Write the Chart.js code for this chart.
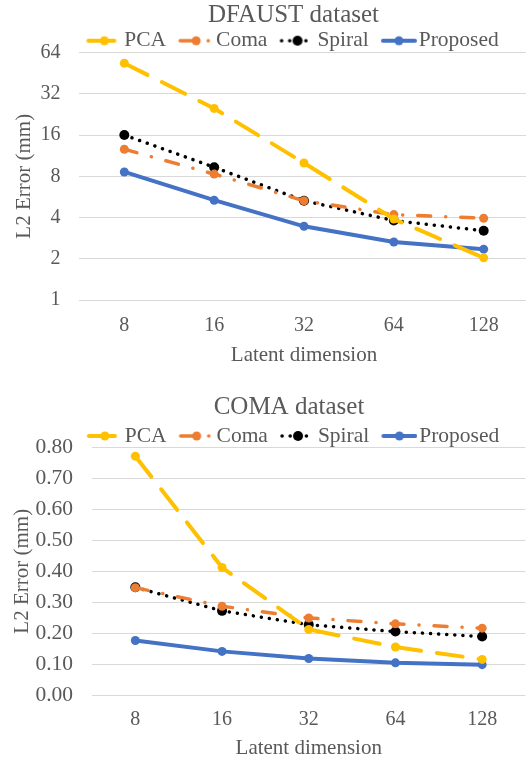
<!DOCTYPE html>
<html>
<head>
<meta charset="utf-8">
<script src="https://cdn.jsdelivr.net/npm/chart.js@4.4.1/dist/chart.umd.min.js"></script>
<style>
  html, body { margin: 0; padding: 0; background: #fff; overflow: hidden; width: 526px; height: 761px; }
  canvas { position: absolute; left: 0; }
  #dfaust { top: 0; }
  #coma { top: 392px; }
</style>
</head>
<body>
<canvas id="dfaust" width="579" height="368"></canvas>
<canvas id="coma" width="570" height="369"></canvas>
<script>
const latentDims = ['8', '16', '32', '64', '128'];
const seriesNames = ['PCA', 'Coma', 'Spiral', 'Proposed'];

// DFAUST dataset (mm, log2 axis)
const dfaustPCA = [53.5, 25, 10, 3.9, 2.03];
const dfaustComa = [12.6, 8.3, 5.3, 4.2, 3.95];
const dfaustSpiral = [16, 9.3, 5.3, 3.8, 3.2];
const dfaustProposed = [8.6, 5.35, 3.45, 2.65, 2.35];
const dfaustTicks = [1, 2, 4, 8, 16, 32, 64];

// COMA dataset (mm)
const comaPCA = [0.772, 0.412, 0.212, 0.155, 0.115];
const comaComa = [0.347, 0.287, 0.249, 0.230, 0.216];
const comaSpiral = [0.348, 0.272, 0.227, 0.205, 0.189];
const comaProposed = [0.176, 0.141, 0.118, 0.104, 0.098];

const textColor = '#595959';
const gridColor = '#d9d9d9';
const serif = "'Liberation Serif', 'Times New Roman', serif";

const styles = [
  { color: '#FFC000', width: 4, dash: [26, 16], cap: 'round', radius: 4.5 },
  { color: '#ED7D31', width: 3.5, dash: [13, 15, 0.1, 15], cap: 'round', radius: 4.5 },
  { color: '#000000', width: 3.5, dash: [0.1, 8], cap: 'round', radius: 5 },
  { color: '#4472C4', width: 4, dash: [], cap: 'round', radius: 4.5 }
];

// legend: line-with-marker symbols drawn into small canvases
const LEG_FONT = 21.5, SYM_LEN = 36, SYM_GAP = 2, ITEM_GAP = 12;
function legendBox(pad) {
  return ITEM_GAP + SYM_LEN + SYM_GAP - LEG_FONT / 2 - pad;
}
function legendSymbol(st, pad) {
  const w = Math.round(legendBox(pad) + LEG_FONT - 2 * SYM_GAP);
  const c = document.createElement('canvas');
  c.width = w; c.height = 14;
  const g = c.getContext('2d');
  const x0 = w - SYM_LEN, x1 = w;
  g.strokeStyle = st.color;
  g.lineWidth = st.width;
  g.lineCap = st.cap;
  g.setLineDash(st.dash);
  g.beginPath(); g.moveTo(x0 + 2, 7); g.lineTo(x1 - 2, 7); g.stroke();
  g.fillStyle = st.color;
  g.beginPath(); g.arc((x0 + x1) / 2, 7, st.radius, 0, Math.PI * 2); g.fill();
  return c;
}

function makeDatasets(values) {
  return values.map((data, i) => ({
    label: seriesNames[i],
    data: data,
    borderColor: styles[i].color,
    backgroundColor: styles[i].color,
    borderWidth: styles[i].width,
    borderDash: styles[i].dash,
    borderCapStyle: styles[i].cap,
    pointRadius: styles[i].radius,
    pointHoverRadius: styles[i].radius,
    pointBorderWidth: 0,
    pointBackgroundColor: styles[i].color,
    tension: 0,
    fill: false
  }));
}

function makeOptions(cfg) {
  const symbols = styles.map(st => legendSymbol(st, cfg.legPad));
  return {
    responsive: false,
    animation: false,
    layout: { padding: { left: 8, right: 0, top: 0, bottom: 0 } },
    plugins: {
      title: {
        display: true,
        text: cfg.title,
        color: textColor,
        font: { family: serif, size: 25, lineHeight: '2px', weight: 'normal' },
        padding: { top: cfg.titleTop, bottom: cfg.titleBottom }
      },
      legend: {
        display: true,
        position: 'top',
        maxHeight: cfg.legHeight,
        labels: {
          usePointStyle: true,
          pointStyleWidth: legendBox(cfg.legPad),
          boxHeight: 14,
          padding: cfg.legPad,
          color: textColor,
          font: { family: serif, size: LEG_FONT },
          generateLabels: chart => chart.data.datasets.map((ds, i) => ({
            text: ds.label,
            pointStyle: symbols[i],
            fontColor: textColor,
            datasetIndex: i,
            hidden: false,
            lineWidth: 0
          }))
        }
      },
      tooltip: { enabled: false }
    },
    scales: {
      x: {
        type: 'category',
        offset: true,
        grid: { display: false, drawTicks: false },
        border: { display: false },
        ticks: { color: textColor, font: { family: serif, size: 20 }, padding: cfg.xPad },
        title: {
          display: true, text: 'Latent dimension', color: textColor,
          font: { family: serif, size: 21 }, padding: { top: 0, bottom: 0 }
        },
        afterFit: s => { s.height = cfg.xHeight; }
      },
      y: Object.assign(cfg.y, { afterFit: s => { s.width = cfg.yWidth; } }),
      r2: {
        position: 'right',
        display: true,
        grid: { display: false, drawTicks: false },
        border: { display: false },
        ticks: { display: false },
        afterFit: s => { s.width = cfg.rightSpace; }
      }
    }
  };
}

new Chart(document.getElementById('dfaust'), {
  type: 'line',
  data: {
    labels: latentDims,
    datasets: makeDatasets([dfaustPCA, dfaustComa, dfaustSpiral, dfaustProposed])
  },
  options: makeOptions({
    title: 'DFAUST dataset',
    titleTop: 14, titleBottom: 0,
    legPad: 14, legHeight: 36.5,
    xPad: 14, xHeight: 68,
    yWidth: 71.4,
    rightSpace: 50.4,
    y: {
      type: 'logarithmic',
      position: 'left',
      min: 1,
      max: 64,
      afterBuildTicks: s => { s.ticks = dfaustTicks.map(v => ({ value: v })); },
      grid: { color: gridColor, lineWidth: 1, drawTicks: false },
      border: { display: false },
      ticks: {
        color: textColor, font: { family: serif, size: 20 }, padding: 19,
        callback: v => String(v)
      },
      title: {
        display: true, text: 'L2 Error (mm)', color: textColor,
        font: { family: serif, size: 21 }, padding: { top: 4, bottom: 3 }
      }
    }
  })
});

new Chart(document.getElementById('coma'), {
  type: 'line',
  data: {
    labels: latentDims,
    datasets: makeDatasets([comaPCA, comaComa, comaSpiral, comaProposed])
  },
  options: makeOptions({
    title: 'COMA dataset',
    titleTop: 14, titleBottom: 13.25,
    legPad: 4, legHeight: 26.25,
    xPad: 13, xHeight: 66,
    yWidth: 84,
    rightSpace: 44.5,
    y: {
      type: 'linear',
      position: 'left',
      min: 0,
      max: 0.8,
      grid: { color: gridColor, lineWidth: 1, drawTicks: false },
      border: { display: false },
      ticks: {
        stepSize: 0.1,
        color: textColor, font: { family: serif, size: 21.5 }, padding: 19,
        callback: v => v.toFixed(2)
      },
      title: {
        display: true, text: 'L2 Error (mm)', color: textColor,
        font: { family: serif, size: 21 }, padding: { top: 1.5, bottom: 1 }
      }
    }
  })
});
</script>
</body>
</html>
